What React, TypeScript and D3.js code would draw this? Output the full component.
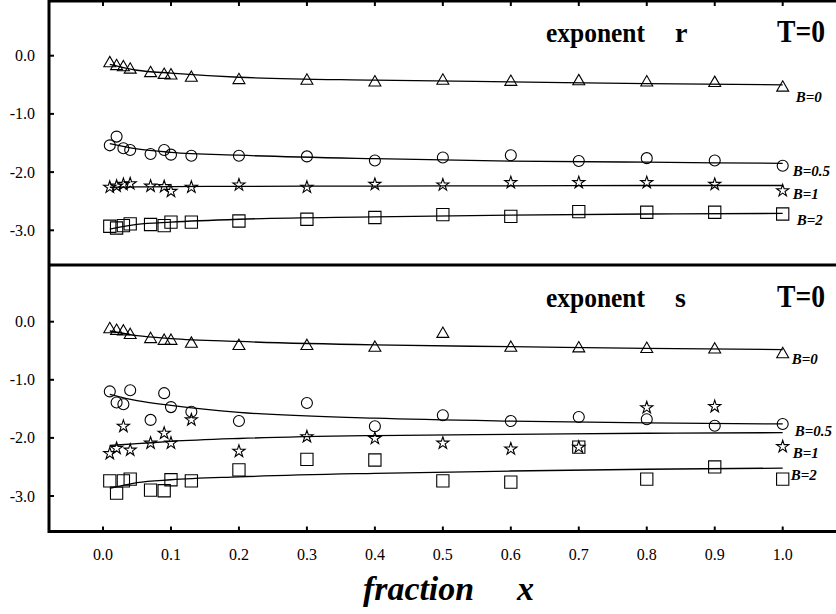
import React from "react";
import * as d3 from "d3";

// ---------- data ----------
const fractionX = [0.01, 0.02, 0.03, 0.04, 0.07, 0.09, 0.1, 0.13, 0.2, 0.3, 0.4, 0.5, 0.6, 0.7, 0.8, 0.9, 1.0];
const xTicks = [0.0, 0.1, 0.2, 0.3, 0.4, 0.5, 0.6, 0.7, 0.8, 0.9, 1.0];
const yTicks = [0.0, -1.0, -2.0, -3.0];

// exponent r (top panel)
const rB0 = [-0.13, -0.18, -0.2, -0.24, -0.3, -0.33, -0.34, -0.38, -0.42, -0.43, -0.46, -0.43, -0.45, -0.44, -0.46, -0.47, -0.55];
const rB05 = [-1.54, -1.39, -1.59, -1.62, -1.69, -1.62, -1.7, -1.72, -1.72, -1.73, -1.8, -1.75, -1.71, -1.81, -1.76, -1.8, -1.89];
const rB1 = [-2.26, -2.24, -2.21, -2.2, -2.24, -2.25, -2.33, -2.26, -2.22, -2.26, -2.21, -2.22, -2.18, -2.18, -2.18, -2.21, -2.32];
const rB2 = [-2.93, -2.96, -2.92, -2.89, -2.9, -2.92, -2.86, -2.86, -2.84, -2.81, -2.78, -2.73, -2.76, -2.68, -2.69, -2.69, -2.72];

// exponent s (bottom panel)
const sB0 = [-0.13, -0.16, -0.17, -0.23, -0.3, -0.33, -0.33, -0.38, -0.42, -0.42, -0.45, -0.21, -0.45, -0.46, -0.47, -0.48, -0.56];
const sB05 = [-1.2, -1.39, -1.42, -1.18, -1.69, -1.23, -1.47, -1.55, -1.71, -1.4, -1.8, -1.61, -1.71, -1.64, -1.68, -1.79, -1.76];
const sB1 = [-2.27, -2.18, -1.8, -2.21, -2.09, -1.92, -2.09, -1.69, -2.23, -1.98, -2.01, -2.09, -2.19, -2.16, -1.48, -1.46, -2.15];
const sB2 = [-2.74, -2.95, -2.74, -2.71, -2.9, -2.91, -2.72, -2.74, -2.55, -2.37, -2.38, -2.74, -2.76, -2.16, -2.71, -2.5, -2.71];

// fitted curves
const fitX = [0.01, 0.05, 0.1, 0.2, 0.4, 0.6, 0.8, 1.0];
const rFitB0 = [-0.15, -0.25, -0.3, -0.37, -0.42, -0.45, -0.48, -0.5];
const rFitB05 = [-1.51, -1.6, -1.66, -1.71, -1.77, -1.81, -1.83, -1.85];
const rFitB1 = [-2.26, -2.255, -2.25, -2.245, -2.24, -2.235, -2.23, -2.23];
const rFitB2 = [-2.98, -2.9, -2.86, -2.81, -2.77, -2.74, -2.72, -2.71];
const sFitB0 = [-0.16, -0.24, -0.29, -0.34, -0.4, -0.43, -0.46, -0.48];
const sFitB05 = [-1.25, -1.36, -1.44, -1.56, -1.66, -1.71, -1.74, -1.76];
const sFitB1 = [-2.13, -2.1, -2.06, -2.01, -1.96, -1.94, -1.92, -1.91];
const sFitB2 = [-2.87, -2.77, -2.72, -2.67, -2.61, -2.57, -2.54, -2.52];

const seriesLabels = ["B=0", "B=0.5", "B=1", "B=2"];
const panelTitles = ["exponent", "exponent"];
const panelSymbols = ["r", "s"];
const tempLabel = "T=0";
const xTitle = "fraction";
const xTitleVar = "x";

// ---------- layout ----------
const W = 836;
const H = 614;
const left = 49;
const serif = "'Times New Roman', Times, 'Liberation Serif', 'Nimbus Roman', 'Nimbus Roman No9 L', Tinos, FreeSerif, 'DejaVu Serif', serif";
const fmt = (t: number) => d3.format(".1f")(t).replace("\u2212", "-");

const xScale = d3.scaleLinear().domain([0, 1]).range([103, 782.7]);

const panels = [
  { top: 1, bottom: 265, y: d3.scaleLinear().domain([-3, 0]).range([230.3, 55.7]), data: [rB0, rB05, rB1, rB2], fits: [rFitB0, rFitB05, rFitB1, rFitB2], titleBase: 41.5, labelOff: [[13, 9], [10, 5], [10, 3], [14, 6]], topTicks: true },
  { top: 265, bottom: 531.5, y: d3.scaleLinear().domain([-3, 0]).range([496, 321.7]), data: [sB0, sB05, sB1, sB2], fits: [sFitB0, sFitB05, sFitB1, sFitB2], titleBase: 306.5, labelOff: [[9, 5], [12, 7.5], [10, 6], [8, -4]], topTicks: false },
];

const symbols = [
  d3.symbol().type(d3.symbolTriangle).size(62)(),
  d3.symbol().type(d3.symbolCircle).size(95)(),
  d3.symbol().type(d3.symbolStar).size(46)(),
  d3.symbol().type(d3.symbolSquare).size(150)(),
];

const txt = { fontFamily: serif };

export default function App() {
  return (
    <svg width={W} height={H} style={{ position: "absolute", left: 0, top: 0, background: "#fff", fontFamily: serif }}>
      <rect x={0} y={0} width={W} height={H} fill="#fff" />
      {panels.map((p, pi) => {
        const line = d3
          .line<number>()
          .x((_, i) => xScale(fitX[i]))
          .y((d) => p.y(d))
          .curve(d3.curveMonotoneX);
        return (
          <g key={pi}>
            {p.fits.map((f, si) => (
              <path key={"f" + si} d={line(f) || ""} fill="none" stroke="#000" strokeWidth={1.3} />
            ))}
            {p.data.map((vals, si) =>
              vals.map((v, i) => (
                <path
                  key={si + "-" + i}
                  d={symbols[si] || ""}
                  transform={`translate(${xScale(fractionX[i])},${p.y(v)})`}
                  fill="none"
                  stroke="#000"
                  strokeWidth={1.1}
                />
              ))
            )}
            {p.data.map((vals, si) => (
              <text
                key={"l" + si}
                x={xScale(1) + p.labelOff[si][0]}
                y={p.y(vals[vals.length - 1]) + p.labelOff[si][1]}
                style={txt}
                fontSize={15}
                fontWeight="bold"
                fontStyle="italic"
                dominantBaseline="central"
              >
                {seriesLabels[si]}
              </text>
            ))}
            {yTicks.map((t) => (
              <g key={"y" + t}>
                <line x1={left} x2={left + 5} y1={p.y(t)} y2={p.y(t)} stroke="#000" strokeWidth={2} />
                <text x={35} y={p.y(t)} style={txt} textAnchor="end" dominantBaseline="central" fontSize={16}>
                  {fmt(t)}
                </text>
              </g>
            ))}
            {xTicks.map((t) => (
              <line
                key={"x" + t}
                x1={xScale(t)}
                x2={xScale(t)}
                y1={p.topTicks ? p.top : p.bottom}
                y2={p.topTicks ? p.top + 5 : p.bottom - 5}
                stroke="#000"
                strokeWidth={2}
              />
            ))}
            <text x={546} y={p.titleBase} style={txt} fontSize={28} fontWeight="bold" textLength={99} lengthAdjust="spacingAndGlyphs">
              {panelTitles[pi]}
            </text>
            <text x={675} y={p.titleBase} style={txt} fontSize={28} fontWeight="bold">
              {panelSymbols[pi]}
            </text>
            <text x={777} y={p.titleBase} style={txt} fontSize={32} fontWeight="bold" textLength={48} lengthAdjust="spacingAndGlyphs">
              {tempLabel}
            </text>
          </g>
        );
      })}
      <line x1={left} x2={W + 5} y1={1} y2={1} stroke="#000" strokeWidth={3} />
      <line x1={left} x2={W + 5} y1={265} y2={265} stroke="#000" strokeWidth={3} />
      <line x1={left} x2={W + 5} y1={531.5} y2={531.5} stroke="#000" strokeWidth={3} />
      <line x1={left} x2={left} y1={0} y2={533} stroke="#000" strokeWidth={3} />
      {xTicks.map((t) => (
        <text key={"xl" + t} x={xScale(t)} y={554} style={txt} textAnchor="middle" dominantBaseline="central" fontSize={16}>
          {fmt(t)}
        </text>
      ))}
      <text x={363} y={600} style={txt} fontSize={34} fontWeight="bold" fontStyle="italic" textLength={111} lengthAdjust="spacingAndGlyphs">
        {xTitle}
      </text>
      <text x={517} y={600} style={txt} fontSize={34} fontWeight="bold" fontStyle="italic">
        {xTitleVar}
      </text>
    </svg>
  );
}
